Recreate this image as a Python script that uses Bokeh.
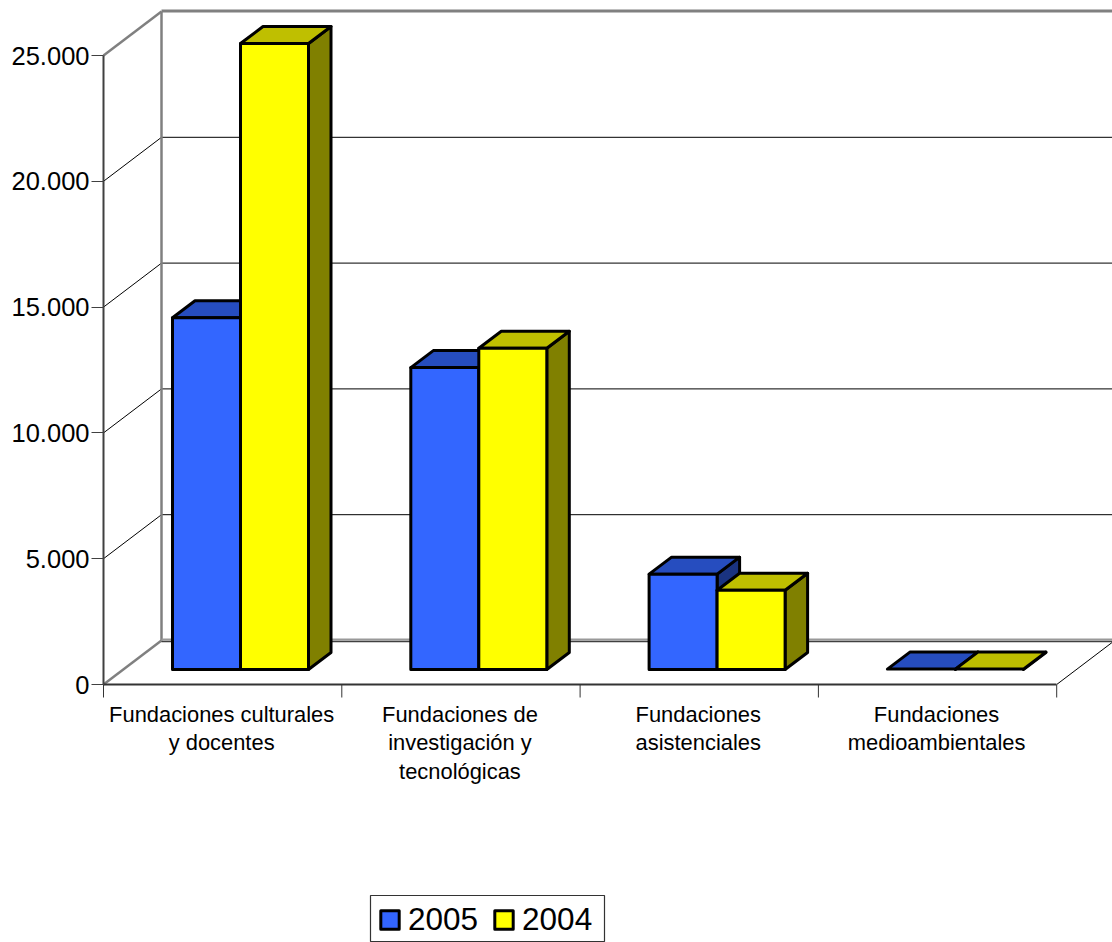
from bokeh.plotting import figure
from bokeh.models import ColumnDataSource, LinearAxis, FixedTicker, Legend, LegendItem
from bokeh.core.properties import value
from bokeh.embed import file_html
from bokeh.resources import INLINE

categories = ["Fundaciones culturales\ny docentes",
              "Fundaciones de\ninvestigación y\ntecnológicas",
              "Fundaciones\nasistenciales",
              "Fundaciones\nmedioambientales"]
series_names = ["2005", "2004"]
values_2005 = [13980, 12000, 3790, 15]
values_2004 = [24880, 12770, 3150, 15]
y_ticks = [0, 5000, 10000, 15000, 20000, 25000]
y_tick_labels = ["0", "5.000", "10.000", "15.000", "20.000", "25.000"]

W, H = 1112, 942
X0_PX, Y0_PX = 103.0, 684.0      # where category 0 / value 0 fall in the figure
PX_PER_CAT = 238.3
PX_PER_VAL = 125.8 / 5000
FONT = "Liberation Sans"

def dx(px): return px / PX_PER_CAT
def dy(px): return px / PX_PER_VAL

p = figure(width=W, height=H, output_backend="svg", toolbar_location=None,
           x_range=(-X0_PX / PX_PER_CAT, (W - X0_PX) / PX_PER_CAT),
           y_range=((Y0_PX - H) / PX_PER_VAL, Y0_PX / PX_PER_VAL),
           x_axis_type=None, y_axis_type=None,
           min_border=0, min_border_left=0, min_border_right=0,
           min_border_top=0, min_border_bottom=0, outline_line_color=None)
p.grid.visible = False

# 3-D walls
WX, WY = dx(58), dy(44)
xmax = len(categories)
top = y_ticks[-1]
wall_end = xmax + WX
for t in y_ticks[1:-1]:
    p.segment(0, t, WX, t + WY, line_color="#000000", line_width=1)
    p.segment(WX, t + WY, wall_end, t + WY, line_color="#000000", line_width=1)
p.segment(xmax, 0, wall_end, WY, line_color="#000000", line_width=1)
p.segment(0, 0, WX, WY, line_color="#808080", line_width=2.5)
p.segment(0, top, WX, top + WY, line_color="#808080", line_width=2.5)
p.segment(WX, WY, WX, top + WY, line_color="#808080", line_width=2.5)
p.segment(WX, top + WY + dy(0.5), wall_end, top + WY + dy(0.5), line_color="#808080", line_width=3)
p.segment(WX, WY + dy(1), wall_end, WY + dy(1), line_color="#999999", line_width=2)
p.segment(WX, WY - dy(1), wall_end, WY - dy(1), line_color="#404040", line_width=1.5)

# axes
yax = LinearAxis(fixed_location=0, ticker=FixedTicker(ticks=y_ticks),
                 major_label_overrides={t: l for t, l in zip(y_ticks, y_tick_labels)},
                 major_label_text_font=FONT, major_label_text_font_size="25.5px",
                 major_label_text_color="#000000", major_label_standoff=2,
                 major_tick_out=12, major_tick_in=0, minor_tick_out=0, minor_tick_in=0,
                 axis_line_color="#404040", axis_line_width=2,
                 major_tick_line_color="#404040", major_tick_line_width=1,
                 bounds=(0, top))
p.add_layout(yax, "left")
xax = LinearAxis(fixed_location=0, ticker=FixedTicker(ticks=[]),
                 major_tick_out=0, major_tick_in=0, minor_tick_out=0, minor_tick_in=0,
                 axis_line_color="#333333", axis_line_width=2,
                 bounds=(0, xmax))
p.add_layout(xax, "below")
edges = list(range(xmax + 1))
p.segment(edges, [0] * len(edges), edges, [-dy(13)] * len(edges), line_color="#333333", line_width=1)

# category labels
lab = ColumnDataSource(dict(x=[i + 0.5 for i in range(xmax)], y=[0] * xmax, text=categories))
p.text("x", "y", "text", source=lab, text_font=value(FONT), text_font_size="21.9px",
       text_color="#000000", text_align="center", text_baseline="top",
       text_line_height=1.155, y_offset=17, x_offset=-1)

# bars
BASE = dy(15)
GAP = dx(69)
BW = dx(68)
BDX, BDY = dx(22.5), dy(17)
colours = [("#3366FF", "#264DBF", "#1A3380"), ("#FFFF00", "#BFBF00", "#808000")]
LW = 3
fronts = []
for i in range(xmax):
    for s, vals in enumerate([values_2005, values_2004]):
        x0 = i + GAP + s * BW
        x1 = x0 + BW
        y0 = BASE
        y1 = BASE + vals[i]
        front, topc, side = colours[s]
        p.patch([x1, x1 + BDX, x1 + BDX, x1], [y0, y0 + BDY, y1 + BDY, y1],
                fill_color=side, line_color="black", line_width=LW, line_join="round")
        p.patch([x0, x1, x1 + BDX, x0 + BDX], [y1, y1, y1 + BDY, y1 + BDY],
                fill_color=topc, line_color="black", line_width=LW, line_join="round")
        if vals[i] > 100:
            r = p.patch([x0, x1, x1, x0], [y0, y0, y1, y1],
                        fill_color=front, line_color="black", line_width=LW, line_join="round")
            if i == 0:
                fronts.append(r)

# legend frame (image px 370-604 x 895-941)
def xd(px): return (px - X0_PX) / PX_PER_CAT
def yd(px): return (Y0_PX - px) / PX_PER_VAL
p.quad(left=xd(370), right=xd(604), top=yd(895), bottom=yd(941),
       fill_color="white", line_color="#333333", line_width=1.2)

legend = Legend(items=[LegendItem(label=n, renderers=[r]) for n, r in zip(series_names, fronts)],
                orientation="horizontal", location=(378, 4),
                label_text_font=FONT, label_text_font_size="31.5px", label_text_color="#000000",
                glyph_width=23, glyph_height=23, label_standoff=7, spacing=14,
                padding=0, margin=0, label_height=26,
                border_line_color=None, background_fill_alpha=0)
p.add_layout(legend, "center")

open("out.html", "w").write(file_html(p, INLINE))
